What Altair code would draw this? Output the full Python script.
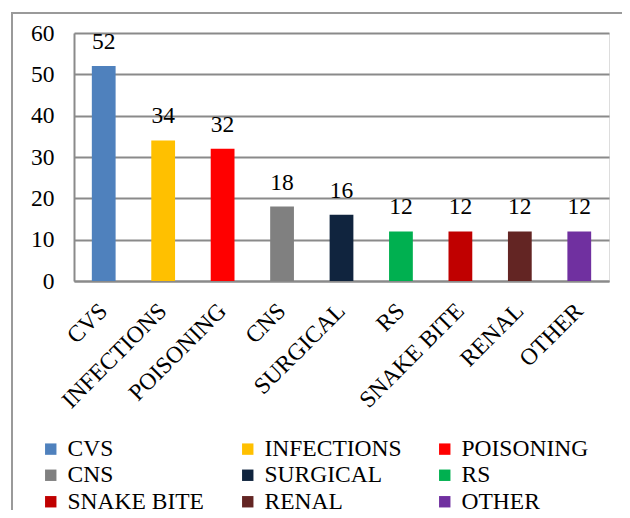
import altair as alt
import pandas as pd

categories = ["CVS", "INFECTIONS", "POISONING", "CNS", "SURGICAL", "RS", "SNAKE BITE", "RENAL", "OTHER"]
values = [52, 34, 32, 18, 16, 12, 12, 12, 12]
colors = ["#4F81BD", "#FFC000", "#FF0000", "#808080", "#10243E", "#00B050", "#C00000", "#632523", "#7030A0"]
y_ticks = [0, 10, 20, 30, 40, 50, 60]

df = pd.DataFrame({"category": categories, "value": values})

FONT = "Liberation Serif"
GRID = "#8a8a8a"
FS = 23.5

x_enc = alt.X("category:N", sort=categories,
              scale=alt.Scale(paddingInner=0.6, paddingOuter=0.3),
              axis=alt.Axis(title=None, labelAngle=-45, labelAlign="right", labelBaseline="middle",
                            labelPadding=26, ticks=False, domain=True, domainColor=GRID,
                            domainWidth=2, labelFontSize=FS, labelFont=FONT, labelColor="black"))
y_enc = alt.Y("value:Q", scale=alt.Scale(domain=[0, 60], nice=False),
              axis=alt.Axis(title=None, values=y_ticks, grid=True, gridColor=GRID, gridWidth=2,
                            ticks=False, domain=True, domainColor=GRID, domainWidth=2,
                            labelPadding=20, labelFontSize=FS, labelFont=FONT, labelColor="black"))

bars = alt.Chart(df).mark_bar().encode(
    x=x_enc,
    y=y_enc,
    color=alt.Color("category:N", sort=categories,
                    scale=alt.Scale(domain=categories, range=colors),
                    legend=alt.Legend(title=None, orient="none", legendX=-35, legendY=404,
                                      direction="horizontal", columns=3, gridAlign="all",
                                      columnPadding=31, rowPadding=1.5, symbolType="square",
                                      symbolSize=130, symbolStrokeWidth=0, labelFontSize=FS,
                                      labelFont=FONT, labelColor="black", labelOffset=5,
                                      padding=0, labelLimit=300)),
)

labels = alt.Chart(df).mark_text(font=FONT, fontSize=FS, color="black", baseline="alphabetic", dy=-17).encode(
    x=alt.X("category:N", sort=categories),
    y=alt.Y("value:Q"),
    text=alt.Text("value:Q"),
)

frame = alt.Chart(pd.DataFrame({"f": [0]})).mark_rect(fillOpacity=0, stroke="#9a9a9a", strokeWidth=2).encode(
    x=alt.value(-62), x2=alt.value(620), y=alt.value(-20), y2=alt.value(560),
)

chart = alt.layer(frame, bars, labels).properties(
    width=535, height=248,
    autosize=alt.AutoSizeParams(type="none"),
    padding={"left": 66, "top": 25, "right": 13, "bottom": 229},
).configure_view(stroke=None).configure(
    background="white", font=FONT
)

chart.save("out.html", embed_options={"renderer": "svg", "actions": False})
